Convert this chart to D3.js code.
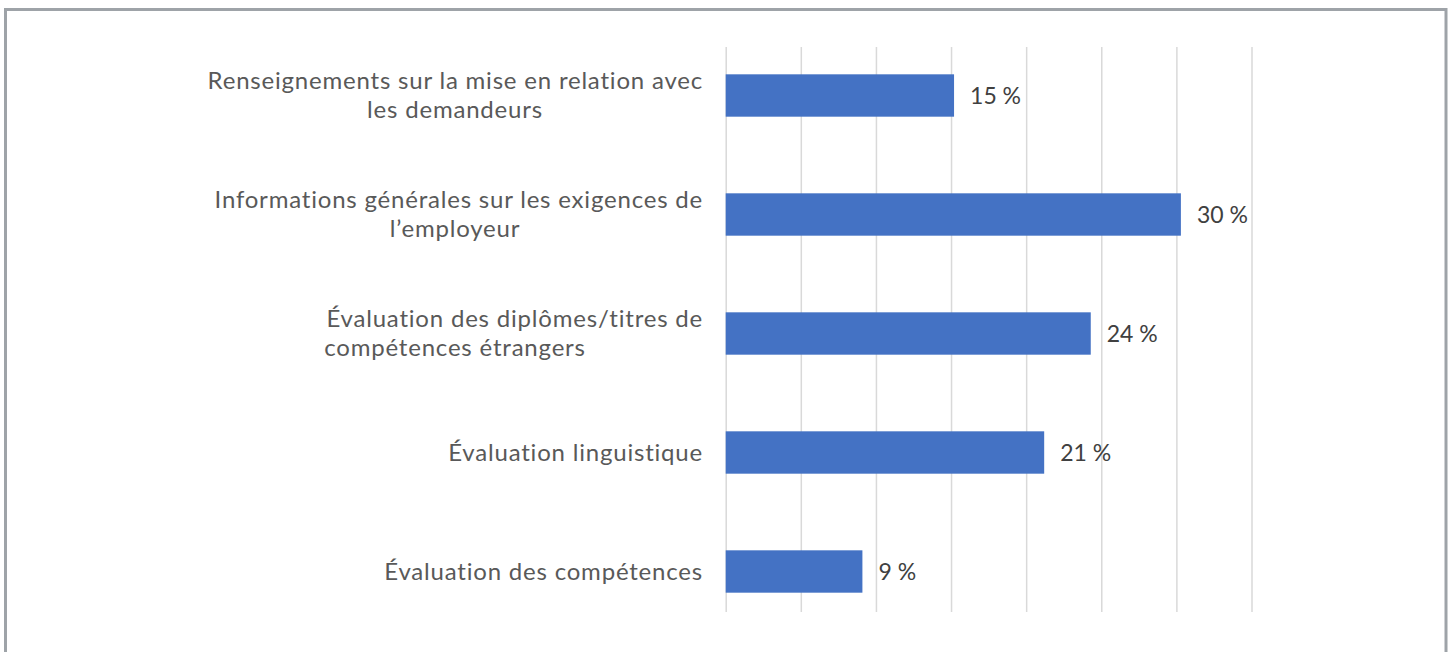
<!DOCTYPE html>
<html>
<head>
<meta charset="utf-8">
<script src="https://cdn.jsdelivr.net/npm/d3@7"></script>
<style>
  body { margin: 0; background: #fff; }
  svg { display: block; }
</style>
</head>
<body>
<div id="chart"></div>
<script>
// data
const categories = [
  "Renseignements sur la mise en relation avec\nles demandeurs",
  "Informations générales sur les exigences de\nl’employeur",
  "Évaluation des diplômes/titres de\ncompétences étrangers",
  "Évaluation linguistique",
  "Évaluation des compétences"
];
const values = [15.2, 30.3, 24.3, 21.2, 9.1];
const valueLabels = ["15 %", "30 %", "24 %", "21 %", "9 %"];
const gridTicks = [0, 5, 10, 15, 20, 25, 30, 35];

const width = 1450;
const height = 652;

const svg = d3.select("#chart")
  .append("svg")
  .attr("width", width)
  .attr("height", height);

// outer frame
svg.append("rect")
  .attr("x", 5.5)
  .attr("y", 9.5)
  .attr("width", 1440.5)
  .attr("height", 700)
  .attr("fill", "#fff")
  .attr("stroke", "#9ea3a8")
  .attr("stroke-width", 3);

const plotTop = 47, plotBottom = 612;

const x = d3.scaleLinear().domain([0, 35]).range([725.7, 1251.5]);
const y = d3.scaleBand()
  .domain(categories)
  .range([36, 631])
  .paddingInner(0.644)
  .paddingOuter(0.322);

// vertical gridlines
const grid = svg.append("g")
  .attr("transform", `translate(0,${plotBottom})`)
  .call(d3.axisBottom(x).tickValues(gridTicks).tickSize(-(plotBottom - plotTop)).tickFormat(""));
grid.select(".domain").remove();
grid.selectAll("line").attr("stroke", "#d9d9d9").attr("stroke-width", 1.5);

// bars
svg.append("g")
  .selectAll("rect")
  .data(categories)
  .join("rect")
  .attr("x", x(0))
  .attr("y", d => y(d))
  .attr("width", (d, i) => x(values[i]) - x(0))
  .attr("height", y.bandwidth())
  .attr("fill", "#4472c4");

// value labels
svg.append("g")
  .selectAll("text")
  .data(categories)
  .join("text")
  .attr("x", (d, i) => x(values[i]) + 16)
  .attr("y", d => y(d) + y.bandwidth() / 2)
  .attr("dy", "0.35em")
  .attr("font-family", "Lato, sans-serif")
  .attr("font-size", 23)
  .attr("fill", "#404040")
  .text((d, i) => valueLabels[i]);

// category labels: first line right aligned, wrapped line centred under the label box
const labelRight = 703;
const wrapCenter = 455;
const lineH = 29;
const catG = svg.append("g")
  .attr("font-family", "Lato, sans-serif")
  .attr("font-size", 24)
  .attr("letter-spacing", 0.8)
  .attr("fill", "#595959");

categories.forEach(c => {
  const lines = c.split("\n");
  const cy = y(c) + y.bandwidth() / 2;
  const t = catG.append("text");
  lines.forEach((ln, j) => {
    t.append("tspan")
      .attr("x", j === 0 ? labelRight : wrapCenter)
      .attr("text-anchor", j === 0 ? "end" : "middle")
      .attr("y", cy + (j - (lines.length - 1) / 2) * lineH)
      .attr("dy", "0.35em")
      .text(ln);
  });
});
</script>
</body>
</html>
